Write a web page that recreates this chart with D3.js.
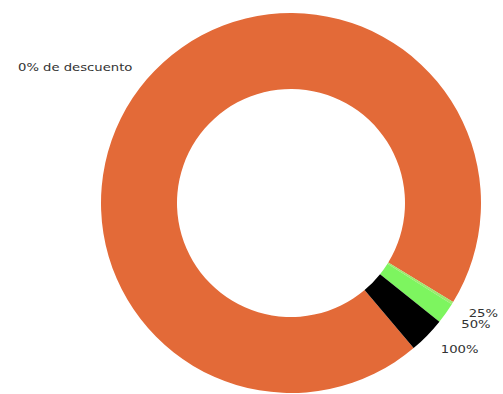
<!DOCTYPE html>
<html>
<head>
<meta charset="utf-8">
<script src="https://cdn.jsdelivr.net/npm/d3@7"></script>
<style>
  html, body { margin: 0; padding: 0; background: #ffffff; }
  svg { display: block; }
  text { font-family: "DejaVu Sans", Verdana, sans-serif; fill: #333; }
</style>
</head>
<body>
<svg id="chart" width="503" height="394"></svg>
<script>
const categories = ["0% de descuento", "25%", "50%", "100%"];
const values = [949, 2, 18, 31];
const colors = ["#E36A38", "#9EE86E", "#7DF55F", "#000000"];

const W = 503, H = 394;
const cx = 291, cy = 203, outerR = 190, innerR = 114;
const startDeg = 139.8;

const svg = d3.select("#chart");
const g = svg.append("g").attr("transform", `translate(${cx},${cy})`);

const color = d3.scaleOrdinal().domain(categories).range(colors);

const pie = d3.pie()
  .sort(null)
  .value(d => d.v)
  .startAngle(startDeg * Math.PI / 180)
  .endAngle(startDeg * Math.PI / 180 + 2 * Math.PI);

const data = categories.map((c, i) => ({ c, v: values[i] }));
const arcs = pie(data);

const arc = d3.arc().innerRadius(innerR).outerRadius(outerR);

g.selectAll("path.slice")
  .data(arcs)
  .join("path")
  .attr("class", "slice")
  .attr("d", arc)
  .attr("fill", d => color(d.data.c));

const labelR = outerR * 1.1;
const mid = d => (d.startAngle + d.endAngle) / 2;
g.selectAll("text.lbl")
  .data(arcs)
  .join("text")
  .attr("class", "lbl")
  .attr("transform", d => `translate(${Math.sin(mid(d)) * labelR},${-Math.cos(mid(d)) * labelR}) scale(1.2,1)`)
  .attr("dy", "0.35em")
  .attr("text-anchor", d => Math.sin(mid(d)) >= 0 ? "start" : "end")
  .attr("font-size", 11)
  .text(d => d.data.c);
</script>
</body>
</html>
